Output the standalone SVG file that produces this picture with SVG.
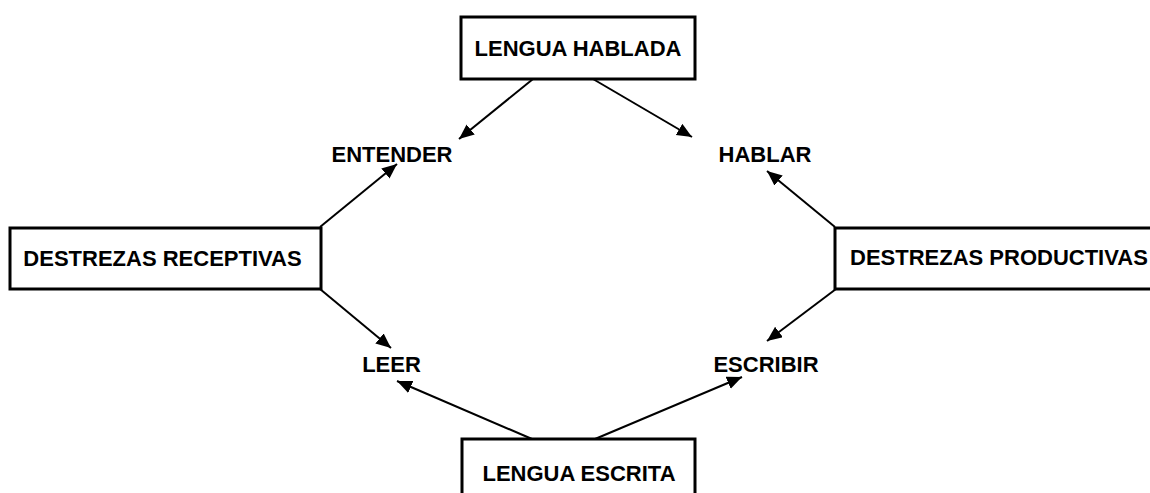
<svg xmlns="http://www.w3.org/2000/svg" width="1150" height="493" viewBox="0 0 1150 493">
<style>
.box{fill:#fff;stroke:#000;stroke-width:3}
.t{font-family:"Liberation Sans",Arial,sans-serif;font-weight:bold;font-size:22px;fill:#000}
.c{stroke:#000;stroke-width:2;fill:none;marker-end:url(#ah)}
</style>
<defs>
<marker id="ah" markerUnits="userSpaceOnUse" markerWidth="16" markerHeight="14" refX="15" refY="6.5" orient="auto">
<path d="M0,0 L15,6.5 L0,13 z" fill="#000"/>
</marker>
</defs>
<rect width="1150" height="493" fill="#fff"/>
<g id="connectors">
<line class="c" x1="533" y1="79" x2="459" y2="139"/>
<line class="c" x1="593" y1="79" x2="692" y2="137"/>
<line class="c" x1="320" y1="227" x2="397" y2="164"/>
<line class="c" x1="320" y1="289" x2="391" y2="348"/>
<line class="c" x1="835" y1="227" x2="767" y2="171"/>
<line class="c" x1="836" y1="289" x2="767" y2="341"/>
<line class="c" x1="532" y1="439" x2="397" y2="381"/>
<line class="c" x1="595" y1="439" x2="742" y2="377"/>
</g>
<g id="lengua-hablada">
<rect class="box" x="461" y="17" width="234" height="62"/>
<text class="t" x="578" y="56" text-anchor="middle">LENGUA HABLADA</text>
</g>
<g id="destrezas-receptivas">
<rect class="box" x="10" y="228" width="311" height="61"/>
<text class="t" x="162.5" y="266" text-anchor="middle">DESTREZAS RECEPTIVAS</text>
</g>
<g id="destrezas-productivas">
<rect class="box" x="835" y="228" width="330" height="61"/>
<text class="t" x="850" y="265">DESTREZAS PRODUCTIVAS</text>
</g>
<g id="lengua-escrita">
<rect class="box" x="462" y="439" width="233" height="70"/>
<text class="t" x="579" y="481" text-anchor="middle">LENGUA ESCRITA</text>
</g>
<g id="entender"><text class="t" x="392" y="162" text-anchor="middle">ENTENDER</text></g>
<g id="hablar"><text class="t" x="765" y="162" text-anchor="middle">HABLAR</text></g>
<g id="leer"><text class="t" x="391.5" y="372" text-anchor="middle">LEER</text></g>
<g id="escribir"><text class="t" x="766" y="372" text-anchor="middle">ESCRIBIR</text></g>
</svg>
